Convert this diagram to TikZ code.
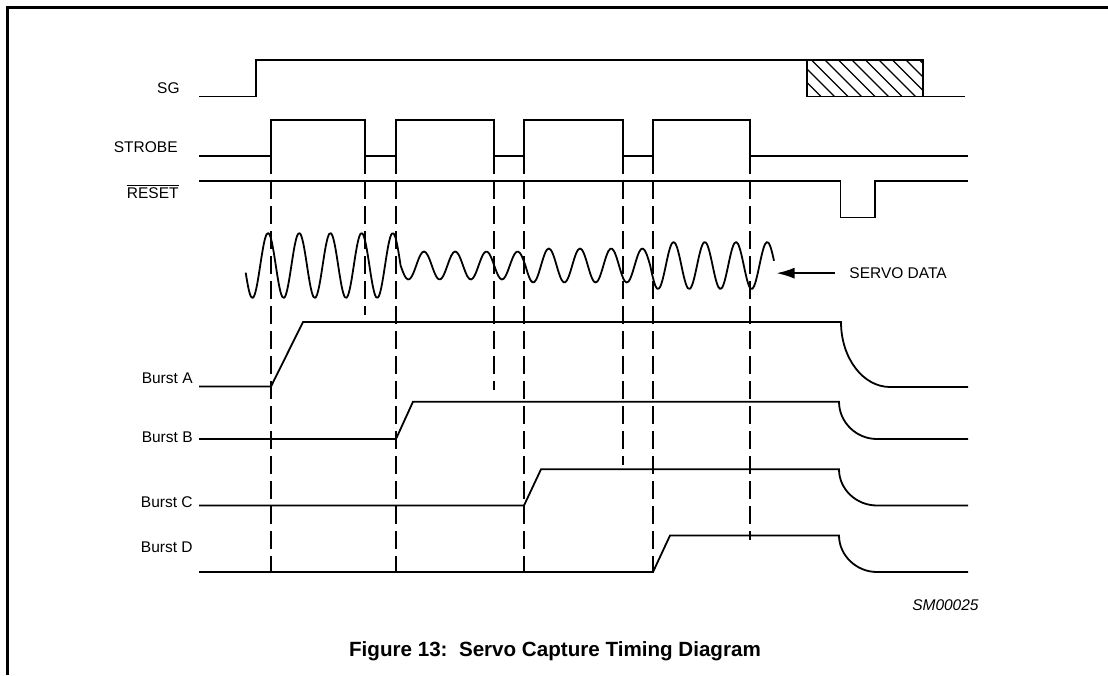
\documentclass[tikz,border=0pt]{standalone}
\usepackage{fontspec}
\setmainfont{Liberation Sans}
\usetikzlibrary{arrows.meta}
\begin{document}
\begin{tikzpicture}[x=0.5pt,y=-0.5pt,
  sig/.style={line width=0.9pt, line join=miter},
  guide/.style={line width=0.9pt, dash pattern=on 9pt off 3.5pt},
  lbl/.style={font=\fontsize{7.75pt}{9pt}\selectfont, inner sep=0pt},
  capt/.style={font=\fontsize{10.3pt}{12pt}\selectfont\bfseries, inner sep=0pt}]
\useasboundingbox (0,0) rectangle (1108,675);
% frame
\draw[line width=1.5pt] (7,675) -- (7,7.5) -- (1108,7.5);

% labels
\node[lbl, anchor=base east] (sg) at (180,93.5) {SG};
\node[lbl, anchor=base east] (strobe) at (178,152.5) {STROBE};
\node[lbl, anchor=base east] (reset) at (179,198.3) {RESET};
\draw[line width=0.5pt] ([yshift=0.8pt]reset.north west) -- ([yshift=0.8pt]reset.north east);
\node[lbl, anchor=base east] (ba) at (193,383.5) {Burst A};
\node[lbl, anchor=base east] (bb) at (193,442.5) {Burst B};
\node[lbl, anchor=base east] (bc) at (193,507.5) {Burst C};
\node[lbl, anchor=base east] (bd) at (193,552.5) {Burst D};
\node[lbl, anchor=base west] (sd) at (849,278.5) {SERVO DATA};
\node[lbl, anchor=base east, font=\fontsize{7.75pt}{9pt}\selectfont\itshape] (sm) at (979,610) {SM00025};
\node[capt, anchor=base] (cap) at (555,656) {Figure 13:\ \ Servo Capture Timing Diagram};

% SG
\draw[sig] (199,96.5) -- (256,96.5) -- (256,60) -- (923,60) -- (923,96.5) -- (965,96.5);
\draw[sig] (807,60) -- (807,96.5) -- (923,96.5);
\begin{scope}
  \clip (807,60) rectangle (923,96.5);
  \foreach \hx in {771,784.5,...,930} {
    \draw[line width=0.6pt] (\hx,60) -- (\hx+36.5,96.5);
  }
\end{scope}

% STROBE
\draw[sig] (199,156) -- (271,156) -- (271,120) -- (365,120) -- (365,156)
  -- (396,156) -- (396,120) -- (494,120) -- (494,156)
  -- (524,156) -- (524,120) -- (623,120) -- (623,156)
  -- (653,156) -- (653,120) -- (750,120) -- (750,156) -- (968,156);

% RESET
\draw[sig] (199,181) -- (840.5,181) -- (840.5,217.5) -- (875,217.5) -- (875,181) -- (968,181);

% guide lines
\foreach \gx in {271,396,524,653} {
  \draw[guide] (\gx,156) -- (\gx,572.5);
}
\draw[guide] (365,156) -- (365,315);
\draw[guide] (494,156) -- (494,390);
\draw[guide] (623,156) -- (623,465);
\draw[guide] (750,156) -- (750,540);

% servo data
\draw[sig, line join=round]
  plot[domain=245.7:400.6, samples=90, smooth] (\x,{265.5-32.5*cos(((\x-268)/31.2)*360)})
  -- plot[domain=400.6:525.4, samples=70, smooth] (\x,{265.5-14*cos(((\x-268)/31.2)*360)})
  -- plot[domain=525.4:650.2, samples=70, smooth] (\x,{265.5-17*cos(((\x-268)/31.2)*360)})
  -- plot[domain=650.2:774, samples=70, smooth] (\x,{265.5-23.5*cos(((\x-268)/31.2)*360)});
\coordinate (sdtip) at (776.5,272);
\draw[line width=0.9pt, -{Latex[length=9pt,width=5.5pt]}] ([xshift=-7pt]sd.west) -- (sd.west -| sdtip);

% bursts
\draw[sig] (199,386.5) -- (271,386.5) -- (303,322) -- (841,322)
  .. controls (841,358) and (863,387) .. (890,387) -- (968,387);
\draw[sig] (199,439) -- (396,439) -- (413,401.7) -- (839,401.7)
  .. controls (839,422) and (856,439) .. (877,439) -- (968,439);
\draw[sig] (199,505.5) -- (524,505.5) -- (541,469.3) -- (839,469.3)
  .. controls (839,489) and (856,505.5) .. (877,505.5) -- (968,505.5);
\draw[sig] (199,572) -- (653,572) -- (670,535.5) -- (839,535.5)
  .. controls (839,555) and (856,572) .. (877,572) -- (968,572);
\end{tikzpicture}
\end{document}
